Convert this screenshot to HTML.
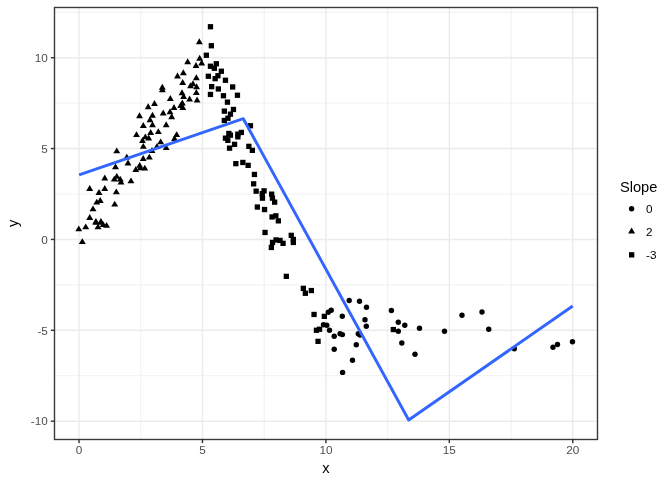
<!DOCTYPE html>
<html><head><meta charset="utf-8"><title>plot</title>
<style>html,body{margin:0;padding:0;background:#fff}svg{display:block}text{font-family:"Liberation Sans",Arial,Helvetica,sans-serif}</style></head><body>
<svg width="672" height="480" viewBox="0 0 672 480">
<rect x="0" y="0" width="672" height="480" fill="#fff"/>
<g stroke="#ebebeb" stroke-width="0.71" fill="none">
<line x1="140.76" y1="7.5" x2="140.76" y2="439.5"/>
<line x1="264.19" y1="7.5" x2="264.19" y2="439.5"/>
<line x1="387.61" y1="7.5" x2="387.61" y2="439.5"/>
<line x1="511.04" y1="7.5" x2="511.04" y2="439.5"/>
<line x1="54.5" y1="375.76" x2="597.5" y2="375.76"/>
<line x1="54.5" y1="284.89" x2="597.5" y2="284.89"/>
<line x1="54.5" y1="194.01" x2="597.5" y2="194.01"/>
<line x1="54.5" y1="103.14" x2="597.5" y2="103.14"/>
<line x1="54.5" y1="12.26" x2="597.5" y2="12.26"/>
</g>
<g stroke="#ebebeb" stroke-width="1.42" fill="none">
<line x1="79.05" y1="7.5" x2="79.05" y2="439.5"/>
<line x1="202.47" y1="7.5" x2="202.47" y2="439.5"/>
<line x1="325.90" y1="7.5" x2="325.90" y2="439.5"/>
<line x1="449.32" y1="7.5" x2="449.32" y2="439.5"/>
<line x1="572.75" y1="7.5" x2="572.75" y2="439.5"/>
<line x1="54.5" y1="421.20" x2="597.5" y2="421.20"/>
<line x1="54.5" y1="330.32" x2="597.5" y2="330.32"/>
<line x1="54.5" y1="239.45" x2="597.5" y2="239.45"/>
<line x1="54.5" y1="148.57" x2="597.5" y2="148.57"/>
<line x1="54.5" y1="57.70" x2="597.5" y2="57.70"/>
</g>
<g fill="#000" stroke="none">
<path d="M89.7 185.1L93.2 190.9H86.2Z"/>
<path d="M104.8 185.1L108.2 190.9H101.3Z"/>
<path d="M99.0 189.1L102.5 194.9H95.5Z"/>
<path d="M116.3 188.4L119.8 194.2H112.8Z"/>
<path d="M100.2 197.1L103.7 202.9H96.8Z"/>
<path d="M96.8 198.8L100.2 204.6H93.3Z"/>
<path d="M114.7 200.8L118.2 206.6H111.2Z"/>
<path d="M93.0 205.4L96.5 211.2H89.5Z"/>
<path d="M89.7 214.1L93.2 219.9H86.2Z"/>
<path d="M95.9 218.1L99.4 223.9H92.5Z"/>
<path d="M95.8 218.9L99.2 224.8H92.3Z"/>
<path d="M100.9 218.1L104.4 223.9H97.5Z"/>
<path d="M101.0 218.9L104.5 224.8H97.5Z"/>
<path d="M103.2 221.2L106.7 227.1H99.8Z"/>
<path d="M106.6 221.9L110.0 227.8H103.1Z"/>
<path d="M98.0 223.4L101.5 229.2H94.5Z"/>
<path d="M85.7 223.4L89.2 229.2H82.2Z"/>
<path d="M78.8 225.4L82.2 231.2H75.3Z"/>
<path d="M82.3 238.2L85.8 244.1H78.8Z"/>
<path d="M116.8 147.4L120.2 153.2H113.3Z"/>
<path d="M126.8 153.8L130.2 159.6H123.3Z"/>
<path d="M115.5 163.4L119.0 169.2H112.0Z"/>
<path d="M128.0 159.6L131.4 165.4H124.5Z"/>
<path d="M143.2 155.1L146.6 160.9H139.8Z"/>
<path d="M149.3 153.8L152.8 159.6H145.9Z"/>
<path d="M139.7 161.9L143.1 167.8H136.2Z"/>
<path d="M140.3 164.5L143.8 170.3H136.9Z"/>
<path d="M135.8 166.1L139.2 171.9H132.4Z"/>
<path d="M144.8 164.8L148.2 170.6H141.4Z"/>
<path d="M104.8 174.6L108.2 180.4H101.3Z"/>
<path d="M114.3 175.8L117.8 181.6H110.8Z"/>
<path d="M116.8 172.9L120.2 178.8H113.3Z"/>
<path d="M120.2 175.8L123.7 181.6H116.8Z"/>
<path d="M121.0 178.8L124.5 184.6H117.5Z"/>
<path d="M131.0 177.4L134.4 183.2H127.5Z"/>
<path d="M152.0 147.1L155.4 152.9H148.6Z"/>
<path d="M143.3 142.9L146.8 148.8H139.9Z"/>
<path d="M142.5 137.1L145.9 142.9H139.1Z"/>
<path d="M160.7 138.4L164.1 144.2H157.2Z"/>
<path d="M157.0 142.9L160.4 148.8H153.6Z"/>
<path d="M166.2 144.2L169.6 150.1H162.8Z"/>
<path d="M162.3 83.8L165.8 89.7H158.9Z"/>
<path d="M162.3 86.2L165.8 92.2H158.9Z"/>
<path d="M170.3 95.0L173.8 101.0H166.9Z"/>
<path d="M182.3 99.5L185.8 105.5H178.9Z"/>
<path d="M180.7 102.0L184.1 108.0H177.2Z"/>
<path d="M182.8 104.0L186.2 110.0H179.4Z"/>
<path d="M174.0 104.0L177.4 110.0H170.6Z"/>
<path d="M154.5 100.0L157.9 106.0H151.1Z"/>
<path d="M148.2 103.2L151.6 109.2H144.8Z"/>
<path d="M170.0 108.3L173.4 114.2H166.6Z"/>
<path d="M163.2 109.5L166.6 115.5H159.8Z"/>
<path d="M171.7 113.3L175.1 119.2H168.2Z"/>
<path d="M139.5 112.3L142.9 118.2H136.1Z"/>
<path d="M152.5 111.8L155.9 117.7H149.1Z"/>
<path d="M150.0 116.2L153.4 122.2H146.6Z"/>
<path d="M152.5 121.2L155.9 127.2H149.1Z"/>
<path d="M143.3 122.0L146.8 128.0H139.9Z"/>
<path d="M166.2 121.2L169.6 127.2H162.8Z"/>
<path d="M158.3 128.2L161.8 134.1H154.9Z"/>
<path d="M150.7 129.1L154.1 134.9H147.2Z"/>
<path d="M136.5 131.2L139.9 137.1H133.1Z"/>
<path d="M145.3 133.4L148.8 139.2H141.9Z"/>
<path d="M148.7 134.6L152.1 140.4H145.2Z"/>
<path d="M176.7 131.2L180.1 137.1H173.2Z"/>
<path d="M174.5 135.1L177.9 140.9H171.1Z"/>
<path d="M199.3 38.2L202.8 44.2H195.9Z"/>
<path d="M199.7 54.8L203.1 60.8H196.2Z"/>
<path d="M187.7 58.2L191.1 64.2H184.2Z"/>
<path d="M201.7 59.5L205.1 65.5H198.2Z"/>
<path d="M196.0 62.0L199.4 68.0H192.6Z"/>
<path d="M183.3 69.2L186.8 75.2H179.9Z"/>
<path d="M177.5 72.5L180.9 78.5H174.1Z"/>
<path d="M196.3 74.3L199.8 80.2H192.9Z"/>
<path d="M182.7 79.0L186.1 85.0H179.2Z"/>
<path d="M190.5 82.2L193.9 88.2H187.1Z"/>
<path d="M193.0 80.2L196.4 86.2H189.6Z"/>
<path d="M196.6 83.3L200.0 89.2H193.2Z"/>
<path d="M196.3 89.0L199.8 95.0H192.9Z"/>
<path d="M182.0 89.3L185.4 95.2H178.6Z"/>
<path d="M183.6 93.0L187.0 99.0H180.2Z"/>
<path d="M189.6 95.5L193.0 101.5H186.2Z"/>
<path d="M197.1 96.5L200.5 102.4H193.7Z"/>
<rect x="207.8" y="24.1" width="5.3" height="5.3"/>
<rect x="208.7" y="43.1" width="5.3" height="5.3"/>
<rect x="203.7" y="52.6" width="5.3" height="5.3"/>
<rect x="213.7" y="61.1" width="5.3" height="5.3"/>
<rect x="207.8" y="63.6" width="5.3" height="5.3"/>
<rect x="211.7" y="65.6" width="5.3" height="5.3"/>
<rect x="218.7" y="68.6" width="5.3" height="5.3"/>
<rect x="205.7" y="73.6" width="5.3" height="5.3"/>
<rect x="215.3" y="73.1" width="5.3" height="5.3"/>
<rect x="212.5" y="76.0" width="5.3" height="5.3"/>
<rect x="222.8" y="77.6" width="5.3" height="5.3"/>
<rect x="209.0" y="84.0" width="5.3" height="5.3"/>
<rect x="215.7" y="86.3" width="5.3" height="5.3"/>
<rect x="230.0" y="84.3" width="5.3" height="5.3"/>
<rect x="207.8" y="91.8" width="5.3" height="5.3"/>
<rect x="220.8" y="93.1" width="5.3" height="5.3"/>
<rect x="234.8" y="92.6" width="5.3" height="5.3"/>
<rect x="224.8" y="99.5" width="5.3" height="5.3"/>
<rect x="230.8" y="106.8" width="5.3" height="5.3"/>
<rect x="221.7" y="108.5" width="5.3" height="5.3"/>
<rect x="227.8" y="111.5" width="5.3" height="5.3"/>
<rect x="225.3" y="115.6" width="5.3" height="5.3"/>
<rect x="221.7" y="117.8" width="5.3" height="5.3"/>
<rect x="247.8" y="123.1" width="5.3" height="5.3"/>
<rect x="226.2" y="130.8" width="5.3" height="5.3"/>
<rect x="227.8" y="132.5" width="5.3" height="5.3"/>
<rect x="238.7" y="129.8" width="5.3" height="5.3"/>
<rect x="235.2" y="131.5" width="5.3" height="5.3"/>
<rect x="222.8" y="135.5" width="5.3" height="5.3"/>
<rect x="235.2" y="134.2" width="5.3" height="5.3"/>
<rect x="225.2" y="137.7" width="5.3" height="5.3"/>
<rect x="231.9" y="141.7" width="5.3" height="5.3"/>
<rect x="226.9" y="145.5" width="5.3" height="5.3"/>
<rect x="246.2" y="143.7" width="5.3" height="5.3"/>
<rect x="249.7" y="147.7" width="5.3" height="5.3"/>
<rect x="233.2" y="161.0" width="5.3" height="5.3"/>
<rect x="240.2" y="159.8" width="5.3" height="5.3"/>
<rect x="245.5" y="162.7" width="5.3" height="5.3"/>
<rect x="251.8" y="171.8" width="5.3" height="5.3"/>
<rect x="251.0" y="181.2" width="5.3" height="5.3"/>
<rect x="253.5" y="188.5" width="5.3" height="5.3"/>
<rect x="261.4" y="188.2" width="5.3" height="5.3"/>
<rect x="259.6" y="191.0" width="5.3" height="5.3"/>
<rect x="269.0" y="191.5" width="5.3" height="5.3"/>
<rect x="259.8" y="195.5" width="5.3" height="5.3"/>
<rect x="269.8" y="195.5" width="5.3" height="5.3"/>
<rect x="272.0" y="199.5" width="5.3" height="5.3"/>
<rect x="254.7" y="204.4" width="5.3" height="5.3"/>
<rect x="261.9" y="206.9" width="5.3" height="5.3"/>
<rect x="269.4" y="214.3" width="5.3" height="5.3"/>
<rect x="273.2" y="213.2" width="5.3" height="5.3"/>
<rect x="275.7" y="218.2" width="5.3" height="5.3"/>
<rect x="262.4" y="229.8" width="5.3" height="5.3"/>
<rect x="288.6" y="232.7" width="5.3" height="5.3"/>
<rect x="273.4" y="237.3" width="5.3" height="5.3"/>
<rect x="277.4" y="237.8" width="5.3" height="5.3"/>
<rect x="290.7" y="236.8" width="5.3" height="5.3"/>
<rect x="290.7" y="239.8" width="5.3" height="5.3"/>
<rect x="269.9" y="239.8" width="5.3" height="5.3"/>
<rect x="280.4" y="240.7" width="5.3" height="5.3"/>
<rect x="268.7" y="244.8" width="5.3" height="5.3"/>
<rect x="283.7" y="273.7" width="5.3" height="5.3"/>
<rect x="300.7" y="285.7" width="5.3" height="5.3"/>
<rect x="308.7" y="287.9" width="5.3" height="5.3"/>
<rect x="302.7" y="290.6" width="5.3" height="5.3"/>
<rect x="311.4" y="311.8" width="5.3" height="5.3"/>
<rect x="321.7" y="313.7" width="5.3" height="5.3"/>
<rect x="313.8" y="327.6" width="5.3" height="5.3"/>
<rect x="316.9" y="326.6" width="5.3" height="5.3"/>
<rect x="315.4" y="338.7" width="5.3" height="5.3"/>
<rect x="390.7" y="326.9" width="5.3" height="5.3"/>
<circle cx="349.2" cy="300.5" r="2.7"/>
<circle cx="359.5" cy="301.3" r="2.7"/>
<circle cx="366.5" cy="307.2" r="2.7"/>
<circle cx="331.2" cy="310.3" r="2.7"/>
<circle cx="328.3" cy="312.3" r="2.7"/>
<circle cx="342.3" cy="316.3" r="2.7"/>
<circle cx="365.0" cy="319.8" r="2.7"/>
<circle cx="366.3" cy="326.2" r="2.7"/>
<circle cx="323.5" cy="324.8" r="2.7"/>
<circle cx="326.8" cy="325.2" r="2.7"/>
<circle cx="329.5" cy="330.3" r="2.7"/>
<circle cx="334.2" cy="336.3" r="2.7"/>
<circle cx="340.1" cy="333.7" r="2.7"/>
<circle cx="342.4" cy="334.6" r="2.7"/>
<circle cx="358.3" cy="333.7" r="2.7"/>
<circle cx="360.0" cy="335.0" r="2.7"/>
<circle cx="356.3" cy="344.7" r="2.7"/>
<circle cx="334.2" cy="349.3" r="2.7"/>
<circle cx="352.5" cy="360.3" r="2.7"/>
<circle cx="342.6" cy="372.4" r="2.7"/>
<circle cx="391.4" cy="310.5" r="2.7"/>
<circle cx="398.3" cy="322.2" r="2.7"/>
<circle cx="404.8" cy="325.3" r="2.7"/>
<circle cx="398.3" cy="331.3" r="2.7"/>
<circle cx="401.8" cy="343.0" r="2.7"/>
<circle cx="419.5" cy="328.3" r="2.7"/>
<circle cx="444.5" cy="331.3" r="2.7"/>
<circle cx="415.0" cy="354.2" r="2.7"/>
<circle cx="462.0" cy="315.3" r="2.7"/>
<circle cx="482.0" cy="312.0" r="2.7"/>
<circle cx="488.7" cy="329.2" r="2.7"/>
<circle cx="514.3" cy="348.8" r="2.7"/>
<circle cx="553.0" cy="347.2" r="2.7"/>
<circle cx="557.5" cy="344.5" r="2.7"/>
<circle cx="572.5" cy="341.7" r="2.7"/>
</g>
<polyline points="79.1,174.9 243.3,118.7 408.7,420.0 572.7,306" fill="none" stroke="#3366ff" stroke-width="2.95" stroke-linejoin="round" stroke-linecap="butt"/>
<rect x="54.5" y="7.5" width="543.0" height="432.0" fill="none" stroke="#383838" stroke-width="1.38"/>
<g stroke="#333" stroke-width="1.42">
<line x1="79.05" y1="439.5" x2="79.05" y2="443.17"/>
<line x1="202.47" y1="439.5" x2="202.47" y2="443.17"/>
<line x1="325.90" y1="439.5" x2="325.90" y2="443.17"/>
<line x1="449.32" y1="439.5" x2="449.32" y2="443.17"/>
<line x1="572.75" y1="439.5" x2="572.75" y2="443.17"/>
<line x1="50.83" y1="421.20" x2="54.5" y2="421.20"/>
<line x1="50.83" y1="330.32" x2="54.5" y2="330.32"/>
<line x1="50.83" y1="239.45" x2="54.5" y2="239.45"/>
<line x1="50.83" y1="148.57" x2="54.5" y2="148.57"/>
<line x1="50.83" y1="57.70" x2="54.5" y2="57.70"/>
</g>
<g fill="#4d4d4d" font-size="11.73px">
<text x="79.05" y="454.3" text-anchor="middle">0</text>
<text x="202.47" y="454.3" text-anchor="middle">5</text>
<text x="325.90" y="454.3" text-anchor="middle">10</text>
<text x="449.32" y="454.3" text-anchor="middle">15</text>
<text x="572.75" y="454.3" text-anchor="middle">20</text>
<text x="47.8" y="425.40" text-anchor="end">-10</text>
<text x="47.8" y="334.52" text-anchor="end">-5</text>
<text x="47.8" y="243.65" text-anchor="end">0</text>
<text x="47.8" y="152.77" text-anchor="end">5</text>
<text x="47.8" y="61.90" text-anchor="end">10</text>
</g>
<text x="325.9" y="472.9" font-size="14.67px" text-anchor="middle" fill="#000">x</text>
<text transform="translate(17.6,223.4) rotate(-90)" font-size="14.67px" text-anchor="middle" fill="#000">y</text>
<text x="619.9" y="191.9" font-size="14.67px" fill="#000">Slope</text>
<circle cx="631.6" cy="208.7" r="2.7" fill="#000"/>
<path d="M631.6 227.6L635.1 233.4H628.1Z" fill="#000"/>
<rect x="629.0" y="252.2" width="5.3" height="5.3" fill="#000"/>
<g fill="#000" font-size="11.73px">
<text x="646" y="212.9">0</text>
<text x="646" y="235.9">2</text>
<text x="646" y="259.0">-3</text>
</g>
</svg></body></html>
